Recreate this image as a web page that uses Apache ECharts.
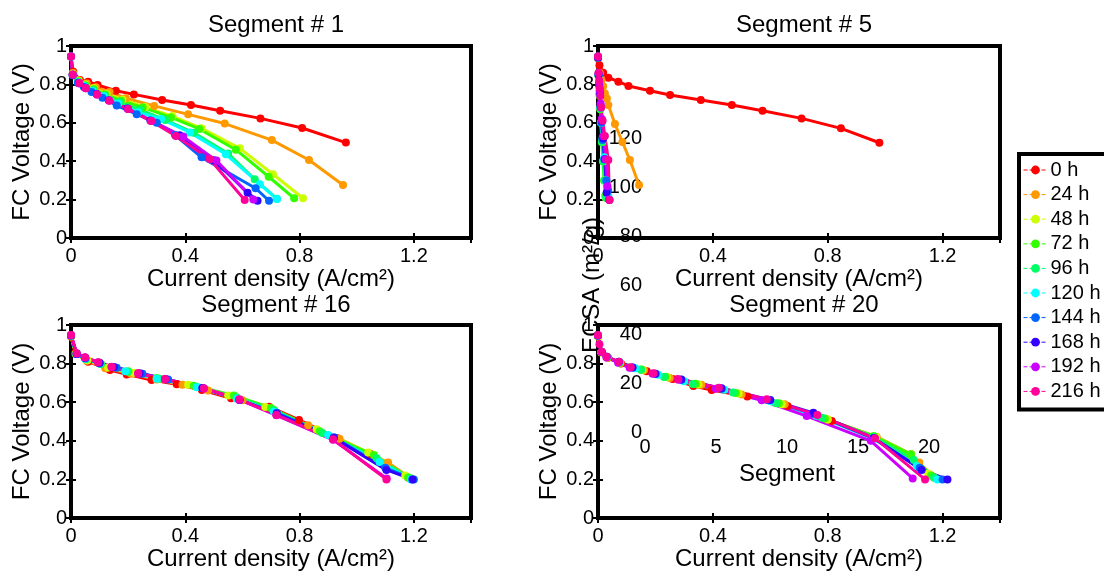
<!DOCTYPE html>
<html>
<head>
<meta charset="utf-8">
<script src="https://cdn.jsdelivr.net/npm/echarts@6/dist/echarts.min.js"></script>
<style>
html,body{margin:0;padding:0;background:#fff;}
#chart{width:1104px;height:572px;}
</style>
</head>
<body>
<div id="chart"></div>
<script>
// ---------- DATA ----------
const seriesNames = ['0 h','24 h','48 h','72 h','96 h','120 h','144 h','168 h','192 h','216 h'];
const seriesColors = ['#ff0000','#ff9900','#ccff00','#33ff00','#00ff66','#00ffff','#0066ff','#3300ff','#cc00ff','#ff0099'];
const panelTitles = ['Segment # 1','Segment # 5','Segment # 16','Segment # 20'];
const xTicks = [0, 0.4, 0.8, 1.2];
const yTicks = [0, 0.2, 0.4, 0.6, 0.8, 1];
const ecsaTicks = [0, 20, 40, 60, 80, 100, 120];
const segmentTicks = [0, 5, 10, 15, 20];

// Segment # 1: [current density, voltage] per series (0 h ... 216 h)
const seg1 = [
 [[0,0.945],[0.008,0.866],[0.031,0.823],[0.06,0.814],[0.093,0.797],[0.157,0.767],[0.22,0.748],[0.319,0.719],[0.42,0.693],[0.522,0.663],[0.663,0.623],[0.809,0.573],[0.962,0.497]],
 [[0,0.945],[0.007,0.86],[0.028,0.82],[0.055,0.805],[0.087,0.785],[0.135,0.76],[0.192,0.728],[0.291,0.688],[0.41,0.644],[0.538,0.596],[0.703,0.51],[0.833,0.406],[0.952,0.276]],
 [[0,0.945],[0.006,0.855],[0.025,0.82],[0.05,0.8],[0.08,0.78],[0.125,0.75],[0.18,0.72],[0.26,0.682],[0.355,0.635],[0.457,0.571],[0.591,0.467],[0.707,0.332],[0.812,0.207]],
 [[0,0.945],[0.006,0.85],[0.025,0.815],[0.05,0.795],[0.08,0.775],[0.12,0.748],[0.175,0.715],[0.251,0.68],[0.35,0.628],[0.449,0.568],[0.577,0.46],[0.692,0.319],[0.781,0.207]],
 [[0,0.945],[0.006,0.85],[0.025,0.812],[0.048,0.792],[0.078,0.77],[0.118,0.742],[0.17,0.708],[0.24,0.668],[0.33,0.615],[0.43,0.548],[0.55,0.44],[0.643,0.306],[0.72,0.205]],
 [[0,0.945],[0.006,0.85],[0.024,0.81],[0.046,0.79],[0.075,0.765],[0.115,0.738],[0.165,0.7],[0.235,0.655],[0.315,0.62],[0.416,0.55],[0.542,0.436],[0.661,0.28],[0.721,0.203]],
 [[0,0.945],[0.006,0.848],[0.024,0.808],[0.045,0.786],[0.072,0.76],[0.11,0.73],[0.16,0.69],[0.23,0.645],[0.3,0.6],[0.364,0.536],[0.457,0.42],[0.646,0.259],[0.693,0.194]],
 [[0,0.945],[0.006,0.85],[0.028,0.806],[0.05,0.782],[0.09,0.75],[0.132,0.718],[0.198,0.675],[0.278,0.612],[0.38,0.535],[0.5,0.405],[0.618,0.236],[0.653,0.194]],
 [[0,0.945],[0.006,0.85],[0.029,0.806],[0.052,0.78],[0.091,0.748],[0.134,0.716],[0.2,0.672],[0.282,0.61],[0.393,0.528],[0.509,0.403],[0.638,0.201]],
 [[0,0.945],[0.006,0.851],[0.029,0.806],[0.052,0.78],[0.091,0.748],[0.134,0.715],[0.2,0.672],[0.28,0.609],[0.367,0.531],[0.486,0.41],[0.608,0.198]]
];

// Segment # 5
const seg5 = [
 [[0,0.936],[0.005,0.9],[0.018,0.861],[0.036,0.835],[0.071,0.814],[0.106,0.792],[0.181,0.767],[0.251,0.745],[0.358,0.719],[0.466,0.693],[0.573,0.663],[0.709,0.623],[0.846,0.571],[0.98,0.496]],
 [[0,0.94],[0.006,0.86],[0.012,0.82],[0.018,0.79],[0.024,0.753],[0.031,0.727],[0.036,0.693],[0.059,0.594],[0.085,0.5],[0.111,0.406],[0.143,0.276]],
 [[0,0.94],[0.002,0.85],[0.004,0.8],[0.006,0.75],[0.008,0.68],[0.011,0.6],[0.015,0.5],[0.019,0.4],[0.023,0.3],[0.027,0.21]],
 [[0,0.94],[0.002,0.845],[0.004,0.79],[0.006,0.74],[0.008,0.67],[0.01,0.6],[0.013,0.5],[0.017,0.4],[0.021,0.3],[0.025,0.22]],
 [[0,0.94],[0.002,0.848],[0.004,0.795],[0.006,0.745],[0.008,0.675],[0.011,0.6],[0.014,0.5],[0.018,0.4],[0.023,0.3],[0.028,0.21]],
 [[0,0.945],[0.002,0.85],[0.004,0.8],[0.006,0.75],[0.009,0.68],[0.012,0.6],[0.016,0.52],[0.022,0.42],[0.029,0.3],[0.036,0.22]],
 [[0,0.94],[0.002,0.85],[0.004,0.8],[0.006,0.75],[0.009,0.68],[0.012,0.6],[0.016,0.51],[0.022,0.41],[0.029,0.3],[0.035,0.25]],
 [[0,0.94],[0.002,0.85],[0.004,0.8],[0.006,0.76],[0.009,0.69],[0.013,0.61],[0.018,0.52],[0.024,0.41],[0.03,0.236],[0.04,0.198]],
 [[0,0.945],[0.002,0.86],[0.004,0.81],[0.006,0.77],[0.009,0.7],[0.013,0.62],[0.019,0.53],[0.026,0.41],[0.033,0.27],[0.038,0.2]],
 [[0,0.945],[0.002,0.86],[0.004,0.82],[0.006,0.78],[0.008,0.74],[0.011,0.68],[0.016,0.611],[0.024,0.531],[0.036,0.406],[0.04,0.198]]
];

// Segment # 16
const seg16 = [
 [[0,0.94],[0.015,0.855],[0.06,0.81],[0.136,0.767],[0.195,0.744],[0.282,0.715],[0.37,0.693],[0.458,0.663],[0.56,0.62],[0.693,0.577],[0.798,0.508],[0.93,0.415],[1.05,0.33],[1.18,0.21]],
 [[0,0.94],[0.016,0.85],[0.055,0.815],[0.12,0.776],[0.21,0.748],[0.3,0.718],[0.39,0.69],[0.48,0.66],[0.6,0.61],[0.71,0.56],[0.83,0.48],[0.94,0.41],[1.11,0.287],[1.19,0.205]],
 [[0,0.945],[0.018,0.852],[0.058,0.818],[0.13,0.78],[0.22,0.752],[0.31,0.72],[0.41,0.69],[0.55,0.635],[0.68,0.575],[0.86,0.46],[1.04,0.34],[1.17,0.22]],
 [[0,0.945],[0.018,0.85],[0.05,0.825],[0.1,0.8],[0.2,0.76],[0.3,0.725],[0.43,0.685],[0.57,0.635],[0.7,0.57],[0.87,0.45],[1.06,0.326],[1.18,0.21]],
 [[0,0.945],[0.018,0.85],[0.052,0.822],[0.105,0.798],[0.2,0.758],[0.31,0.722],[0.44,0.68],[0.58,0.625],[0.71,0.56],[0.88,0.44],[1.07,0.31],[1.19,0.205]],
 [[0,0.945],[0.02,0.85],[0.05,0.825],[0.1,0.8],[0.19,0.76],[0.3,0.722],[0.44,0.678],[0.58,0.618],[0.71,0.55],[0.9,0.43],[1.08,0.29],[1.19,0.2]],
 [[0,0.945],[0.02,0.85],[0.05,0.828],[0.1,0.802],[0.16,0.778],[0.25,0.748],[0.34,0.718],[0.46,0.674],[0.59,0.612],[0.72,0.545],[0.92,0.418],[1.1,0.26],[1.2,0.2]],
 [[0,0.945],[0.02,0.85],[0.05,0.83],[0.1,0.805],[0.15,0.782],[0.24,0.75],[0.33,0.72],[0.46,0.673],[0.59,0.612],[0.72,0.54],[0.92,0.415],[1.104,0.249],[1.195,0.2]],
 [[0,0.948],[0.02,0.852],[0.049,0.832],[0.095,0.806],[0.142,0.783],[0.235,0.749],[0.329,0.719],[0.465,0.671],[0.589,0.613],[0.719,0.532],[0.917,0.405],[1.105,0.205]],
 [[0,0.948],[0.02,0.853],[0.049,0.833],[0.095,0.807],[0.142,0.784],[0.235,0.75],[0.329,0.72],[0.465,0.672],[0.589,0.615],[0.719,0.534],[0.917,0.408],[1.104,0.2]]
];

// Segment # 20
const seg20 = [
 [[0,0.94],[0.012,0.86],[0.035,0.83],[0.08,0.8],[0.17,0.76],[0.26,0.72],[0.332,0.684],[0.396,0.663],[0.52,0.63],[0.66,0.58],[0.814,0.502],[0.97,0.42],[1.09,0.33],[1.16,0.22]],
 [[0,0.94],[0.012,0.858],[0.033,0.83],[0.078,0.802],[0.16,0.765],[0.25,0.725],[0.36,0.69],[0.5,0.64],[0.65,0.59],[0.8,0.51],[0.96,0.42],[1.119,0.287],[1.17,0.21]],
 [[0,0.94],[0.012,0.858],[0.032,0.832],[0.076,0.805],[0.155,0.768],[0.24,0.73],[0.35,0.692],[0.49,0.645],[0.64,0.59],[0.8,0.51],[0.97,0.42],[1.09,0.33],[1.15,0.23]],
 [[0,0.945],[0.012,0.86],[0.032,0.833],[0.075,0.806],[0.15,0.77],[0.235,0.732],[0.34,0.695],[0.48,0.648],[0.63,0.595],[0.79,0.515],[0.96,0.425],[1.09,0.33],[1.16,0.22]],
 [[0,0.945],[0.012,0.86],[0.032,0.833],[0.075,0.806],[0.15,0.768],[0.23,0.73],[0.33,0.694],[0.47,0.65],[0.62,0.595],[0.78,0.52],[0.96,0.42],[1.1,0.3],[1.17,0.21]],
 [[0,0.945],[0.012,0.86],[0.031,0.834],[0.074,0.808],[0.13,0.776],[0.21,0.742],[0.3,0.708],[0.44,0.664],[0.6,0.605],[0.76,0.53],[0.96,0.41],[1.11,0.27],[1.182,0.2]],
 [[0,0.945],[0.013,0.86],[0.03,0.835],[0.073,0.809],[0.12,0.78],[0.2,0.748],[0.29,0.716],[0.43,0.67],[0.59,0.611],[0.75,0.54],[0.96,0.413],[1.12,0.26],[1.2,0.2]],
 [[0,0.945],[0.013,0.86],[0.03,0.835],[0.072,0.808],[0.12,0.78],[0.2,0.748],[0.29,0.718],[0.43,0.672],[0.6,0.612],[0.75,0.545],[0.96,0.415],[1.127,0.249],[1.217,0.2]],
 [[0,0.945],[0.012,0.86],[0.03,0.832],[0.07,0.805],[0.11,0.778],[0.19,0.748],[0.28,0.716],[0.41,0.67],[0.57,0.61],[0.727,0.528],[0.95,0.4],[1.096,0.205]],
 [[0,0.948],[0.005,0.9],[0.013,0.862],[0.03,0.836],[0.073,0.81],[0.114,0.781],[0.193,0.75],[0.278,0.72],[0.421,0.675],[0.588,0.615],[0.764,0.534],[0.965,0.413],[1.139,0.2]]
];

const panels = [seg1, seg5, seg16, seg20];

// ---------- LAYOUT / STYLE ----------
const FONT = 'Liberation Sans, Arial, Helvetica, sans-serif';
const gridRects = [
  {left:71, top:46, width:400, height:192},
  {left:598, top:46, width:402, height:192},
  {left:71, top:325, width:400, height:193},
  {left:598, top:325, width:402, height:193}
];
const ghostGrid = {left:645, top:138, width:284, height:294};

const tickStyle = {show:true, inside:true, length:5, lineStyle:{color:'#000', width:2}};
const labelStyle = {color:'#000', fontSize:20, fontFamily:FONT};
const nameStyle = {color:'#000', fontSize:24, fontFamily:FONT};

const grids = gridRects.map(r => Object.assign({show:true, borderColor:'#000', borderWidth:4, backgroundColor:'rgba(0,0,0,0)', containLabel:false}, r));
grids.push(Object.assign({show:false, containLabel:false}, ghostGrid));

const xAxes = [], yAxes = [];
const xMin = xTicks[0], xMax = 1.4, xInt = xTicks[1]-xTicks[0];
const yMin = yTicks[0], yMax = yTicks[yTicks.length-1], yInt = yTicks[1]-yTicks[0];
for (let i=0;i<4;i++){
  xAxes.push({type:'value', gridIndex:i, min:xMin, max:xMax, interval:xInt, position:'bottom',
    axisLine:{show:false}, axisTick:tickStyle, splitLine:{show:false},
    axisLabel:Object.assign({margin:8, showMaxLabel:false}, labelStyle),
    name:'Current density (A/cm²)', nameLocation:'middle', nameGap:24, nameTextStyle:nameStyle});
  yAxes.push({type:'value', gridIndex:i, min:yMin, max:yMax, interval:yInt, position:'left',
    axisLine:{show:false}, axisTick:tickStyle, splitLine:{show:false},
    axisLabel:Object.assign({margin:4}, labelStyle),
    name:'FC Voltage (V)', nameLocation:'middle', nameGap:37, nameTextStyle:nameStyle});
}
// ghost ECSA / Segment axes
xAxes.push({type:'value', gridIndex:4, min:segmentTicks[0], max:segmentTicks[segmentTicks.length-1], interval:segmentTicks[1]-segmentTicks[0],
  axisLine:{show:false}, axisTick:{show:false}, splitLine:{show:false},
  axisLabel:Object.assign({margin:5}, labelStyle),
  name:'Segment', nameLocation:'middle', nameGap:22, nameTextStyle:nameStyle});
yAxes.push({type:'value', gridIndex:4, min:ecsaTicks[0], max:ecsaTicks[ecsaTicks.length-1], interval:ecsaTicks[1]-ecsaTicks[0],
  axisLine:{show:false}, axisTick:{show:false}, splitLine:{show:false},
  axisLabel:Object.assign({margin:3}, labelStyle),
  name:'ECSA (m²/g)', nameLocation:'middle', nameGap:40, nameTextStyle:nameStyle});
// mirror ticks on top / right
for (let i=0;i<4;i++){
  xAxes.push({type:'value', gridIndex:i, min:xMin, max:xMax, interval:xInt, position:'top',
    axisLine:{show:false}, axisTick:tickStyle, splitLine:{show:false}, axisLabel:{show:false}});
  yAxes.push({type:'value', gridIndex:i, min:yMin, max:yMax, interval:yInt, position:'right',
    axisLine:{show:false}, axisTick:tickStyle, splitLine:{show:false}, axisLabel:{show:false}});
}

const series = [];
panels.forEach((panel, pi) => {
  panel.forEach((pts, si) => {
    series.push({
      type:'line', name:seriesNames[si], xAxisIndex:pi, yAxisIndex:pi,
      data:pts, symbol:'circle', symbolSize:8, showSymbol:true,
      color:seriesColors[si],
      lineStyle:{width:3, color:seriesColors[si]},
      itemStyle:{color:seriesColors[si]},
      emphasis:{disabled:true}, clip:true, z:2
    });
  });
});

const titles = panelTitles.map((t, i) => ({
  text:t, left:gridRects[i].left + gridRects[i].width/2, textAlign:'center',
  top: i < 2 ? 8 : 288,
  textStyle:{color:'#000', fontSize:24, fontWeight:'normal', fontFamily:FONT}
}));

const option = {
  animation:false,
  backgroundColor:'#fff',
  title:titles,
  grid:grids,
  xAxis:xAxes,
  yAxis:yAxes,
  legend:{
    data:seriesNames, orient:'vertical', left:1019, top:154,
    borderColor:'#000', borderWidth:4, borderRadius:0, padding:[6,40,8,4],
    itemWidth:24, itemHeight:11, itemGap:4.6,
    lineStyle:{type:'dashed', width:1},
    textStyle:{color:'#000', fontSize:20, fontFamily:FONT, padding:[0,0,0,-2]},
    selectedMode:false
  },
  series:series
};

const chart = echarts.init(document.getElementById('chart'), null, {renderer:'canvas'});
chart.setOption(option);
</script>
</body>
</html>
